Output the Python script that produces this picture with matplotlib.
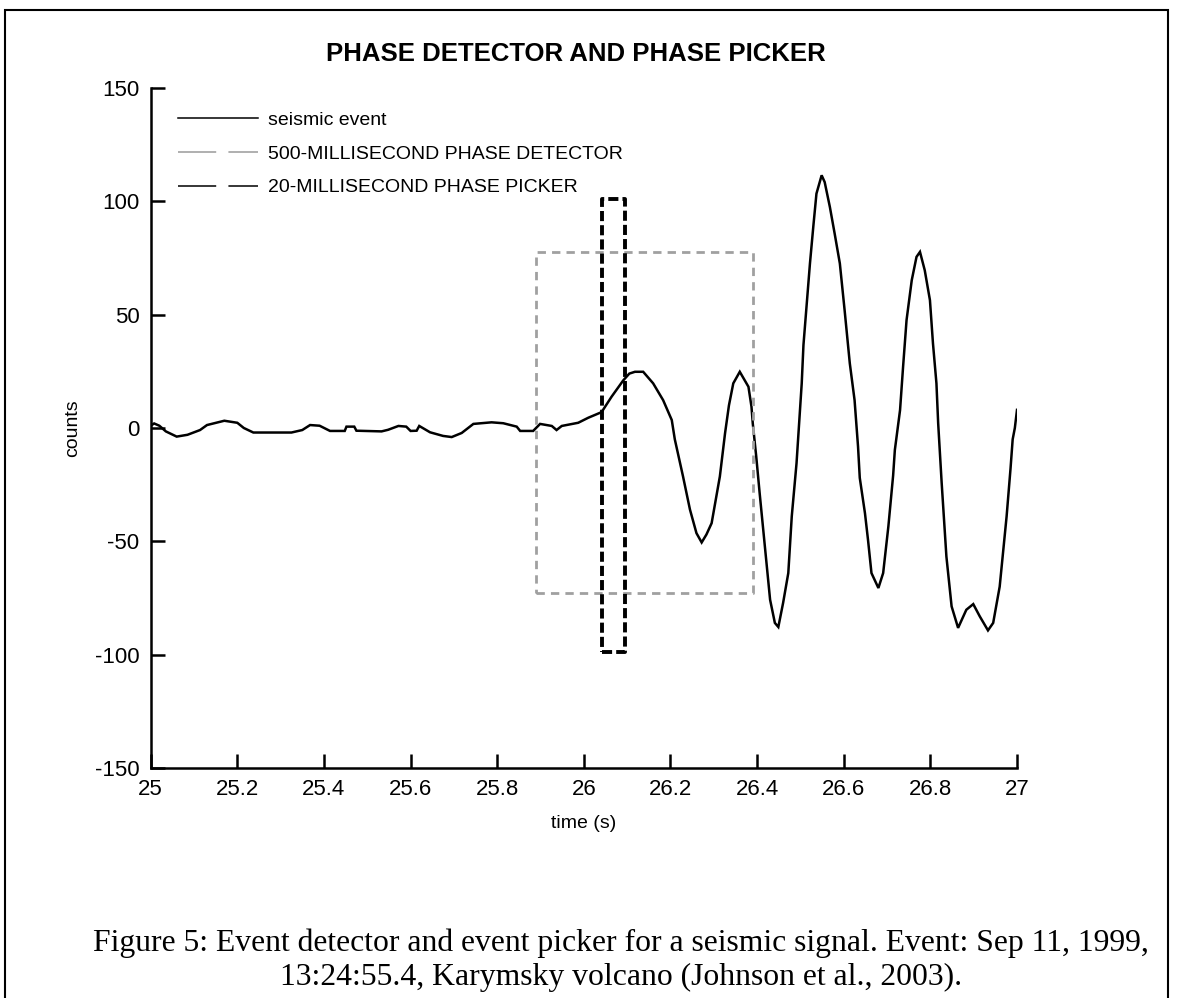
import matplotlib
matplotlib.use("Agg")
import matplotlib.pyplot as plt
from matplotlib.lines import Line2D
from matplotlib.patches import Rectangle

plt.rcParams['axes.unicode_minus'] = False
plt.rcParams['font.family'] = ['Liberation Sans', 'DejaVu Sans']

# seismic trace (time in s, counts)
time_s = [25.000, 25.008, 25.02, 25.035, 25.06, 25.085, 25.114, 25.13, 25.17, 25.20,
          25.215, 25.237, 25.325, 25.35, 25.368, 25.39, 25.414, 25.448, 25.452, 25.47,
          25.475, 25.533, 25.548, 25.572, 25.59, 25.60, 25.614, 25.62, 25.645, 25.675,
          25.695, 25.718, 25.745, 25.787, 25.814, 25.845, 25.853, 25.883, 25.899, 25.926,
          25.937, 25.949, 25.987, 26.01, 26.041, 26.064, 26.091, 26.105, 26.118, 26.137,
          26.16, 26.183, 26.203, 26.21, 26.229, 26.245, 26.26, 26.272, 26.283, 26.295,
          26.314, 26.326, 26.335, 26.345, 26.36, 26.38, 26.387, 26.39, 26.398, 26.406,
          26.418, 26.43, 26.441, 26.449, 26.46, 26.472, 26.48, 26.491, 26.495, 26.503,
          26.507, 26.514, 26.522, 26.53, 26.537, 26.549, 26.556, 26.568, 26.579, 26.591,
          26.602, 26.614, 26.625, 26.633, 26.637, 26.649, 26.656, 26.664, 26.68, 26.691,
          26.703, 26.714, 26.718, 26.73, 26.737, 26.745, 26.757, 26.768, 26.776, 26.787,
          26.799, 26.806, 26.814, 26.818, 26.822, 26.826, 26.837, 26.849, 26.864, 26.883,
          26.899, 26.914, 26.933, 26.945, 26.96, 26.976, 26.985, 26.99, 26.995, 27.0]
counts = [1, 2, 1, -1.5, -3.8, -3, -0.9, 1.3, 3.2, 2.3,
          0, -2, -2, -0.9, 1.3, 1, -1.3, -1.3, 0.6, 0.6,
          -1.2, -1.5, -0.8, 0.9, 0.6, -1.3, -1.2, 0.9, -1.9, -3.5,
          -4, -2.2, 1.8, 2.5, 2.1, 0.6, -1.3, -1.3, 1.8, 0.9,
          -0.9, 0.9, 2.3, 4.5, 7, 13.8, 21, 24, 24.8, 24.8,
          19.7, 12.3, 3.5, -5, -21.4, -36, -46.4, -50.5, -47, -42,
          -21.4, -2.3, 10, 19.7, 24.8, 18.2, 9.4, 2, -12.6, -29,
          -52.3, -75.8, -86, -87.8, -77.2, -64, -39, -15.6, -4, 19.7,
          36.6, 53.4, 72.6, 89.4, 103.4, 111.5, 108.5, 97.5, 85.8, 72.6,
          52, 28.5, 12.3, -8.2, -22, -37.6, -49.3, -64, -70.6, -64,
          -43.5, -21, -9.7, 7.9, 27, 47.6, 65.2, 75.5, 77.7, 69.6,
          56.4, 37.3, 19.7, 2.1, -11.1, -24, -56.7, -78.7, -88.2, -80.2,
          -77.7, -83.1, -89.3, -86, -70, -39, -18, -5, 0, 8]

# detector (500 ms) and picker (20 ms) windows: [start, end] and [low, high]
detector_t = [25.89, 26.39]
detector_v = [-73, 77.5]
picker_t = [26.043, 26.095]
picker_v = [-99, 101]

legend_labels = ["seismic event", "500-MILLISECOND PHASE DETECTOR",
                 "20-MILLISECOND PHASE PICKER"]
xticks = [25, 25.2, 25.4, 25.6, 25.8, 26, 26.2, 26.4, 26.6, 26.8, 27]
xtick_labels = ["25", "25.2", "25.4", "25.6", "25.8", "26", "26.2", "26.4",
                "26.6", "26.8", "27"]
yticks = [-150, -100, -50, 0, 50, 100, 150]


def box(t, v):
    xs = [t[0], t[1], t[1], t[0], t[0]]
    ys = [v[0], v[0], v[1], v[1], v[0]]
    return xs, ys


fig = plt.figure(figsize=(11.79, 9.98), dpi=100)
ax = fig.add_axes([0.1278, 0.2305, 0.7348, 0.6813])

ax.plot(time_s, counts, color='black', lw=1.8, solid_joinstyle='miter')
dx, dy = box(detector_t, detector_v)
ax.plot(dx, dy, color='#a0a0a0', lw=2.0, linestyle=(0, (3.0, 2.2)))
px, py = box(picker_t, picker_v)
ax.plot(px, py, color='black', lw=2.8, linestyle=(0, (2.6, 1.05)))

ax.set_xlim(25, 27)
ax.set_ylim(-150, 150)
ax.set_xticks(xticks)
ax.set_xticklabels(xtick_labels)
ax.set_yticks(yticks)
for s in ['top', 'right']:
    ax.spines[s].set_visible(False)
for s in ['left', 'bottom']:
    ax.spines[s].set_linewidth(1.8)
ax.tick_params(direction='in', length=10, width=1.8, labelsize=16, pad=8)

ax.set_xlabel("time (s)", fontsize=14, labelpad=11)
ax.set_ylabel("counts", fontsize=14)
ax.yaxis.set_label_coords(-0.08, 0.5)

handles = [Line2D([], [], color='black', lw=1.1),
           Line2D([], [], color='#9a9a9a', lw=1.1, linestyle=(0, (25, 8))),
           Line2D([], [], color='black', lw=1.1, linestyle=(0, (25, 8)))]
ax.legend(handles, legend_labels, loc='upper left', frameon=False,
          bbox_to_anchor=(178 / 1179, 1 - 111 / 998), bbox_transform=fig.transFigure,
          borderpad=0, borderaxespad=0, fontsize=14, handlelength=4.1,
          handletextpad=0.55, labelspacing=0.84)

fig.text(576 / 1179, 1 - 54 / 998, "PHASE DETECTOR AND PHASE PICKER",
         fontweight='bold', fontsize=18.5, ha='center', va='center')

fig.text(621 / 1179, 1 - 960 / 998,
         "Figure 5: Event detector and event picker for a seismic signal. Event: Sep 11, 1999,\n"
         "13:24:55.4, Karymsky volcano (Johnson et al., 2003).",
         family=['Liberation Serif', 'DejaVu Serif'], fontsize=22.8, ha='center',
         va='center', linespacing=1.2)

fig.add_artist(Rectangle((5 / 1179, -0.05), 1163 / 1179, 1.05 - 10 / 998,
                         transform=fig.transFigure, fill=False, edgecolor='black',
                         lw=1.5, clip_on=False))

fig.savefig("out.png", dpi=100)
